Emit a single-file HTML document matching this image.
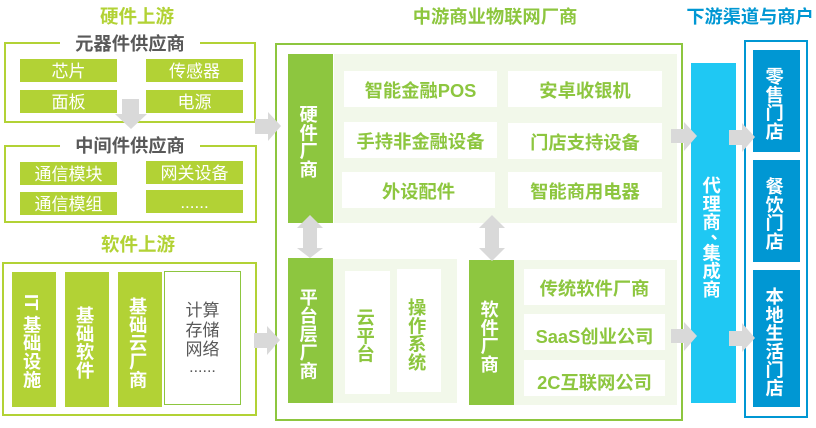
<!DOCTYPE html>
<html lang="zh">
<head>
<meta charset="utf-8">
<style>
html,body{margin:0;padding:0;background:#fff}
#c{position:relative;width:816px;height:428px;overflow:hidden;background:#fff;font-family:"Liberation Sans","Noto Sans CJK SC",sans-serif}
#c div{position:absolute;box-sizing:border-box}
.t{display:flex;align-items:center;justify-content:center;white-space:nowrap;font-size:18.3px;font-weight:700;line-height:1}
.t span{position:relative}
.y{background:#b2d235;color:#fff;font-weight:400;font-size:17px}
.y span{top:1px}
.w{background:#fff;color:#8dc63f}
.v{writing-mode:vertical-rl;color:#fff}
.v span{left:-3px;top:3px}
.g{background:#8dc63f}.l{background:#b2d235}.b{background:#0097d3}
.p{background:#f2f8ea}
svg{position:absolute;left:0;top:0}
</style>
</head>
<body>
<div id="c">
<!-- outer frames -->
<div style="left:4px;top:42px;width:252px;height:81px;border:2px solid #b2d235"></div>
<div style="left:60px;top:36px;width:140px;height:12px;background:#fff"></div>
<div style="left:4px;top:145px;width:253px;height:78px;border:2px solid #b2d235"></div>
<div style="left:60px;top:139px;width:140px;height:12px;background:#fff"></div>
<div style="left:2px;top:262px;width:255px;height:154px;border:2px solid #b2d235"></div>
<div style="left:275px;top:43px;width:408px;height:378px;border:2px solid #8dc63f"></div>
<div style="left:744px;top:40px;width:64px;height:378px;border:2px solid #0097d3"></div>

<!-- titles -->
<div class="t" style="left:87px;top:6px;width:100px;height:22px;color:#b2d235;font-size:18.5px">硬件上游</div>
<div class="t" style="left:60px;top:33px;width:140px;height:22px;color:#595959">元器件供应商</div>
<div class="t" style="left:60px;top:135px;width:140px;height:22px;color:#595959">中间件供应商</div>
<div class="t" style="left:88px;top:234px;width:100px;height:22px;color:#b2d235;font-size:18.5px">软件上游</div>
<div class="t" style="left:395px;top:6px;width:200px;height:22px;color:#8dc63f">中游商业物联网厂商</div>
<div class="t" style="left:680px;top:6px;width:140px;height:22px;color:#0097d3;font-size:18.2px">下游渠道与商户</div>

<!-- hardware upstream -->
<div class="t y" style="left:20px;top:59px;width:97px;height:23px"><span>芯片</span></div>
<div class="t y" style="left:146px;top:59px;width:97px;height:23px"><span>传感器</span></div>
<div class="t y" style="left:20px;top:90px;width:97px;height:23px"><span>面板</span></div>
<div class="t y" style="left:146px;top:90px;width:97px;height:23px"><span>电源</span></div>
<div class="t y" style="left:20px;top:162px;width:97px;height:23px"><span>通信模块</span></div>
<div class="t y" style="left:146px;top:161px;width:97px;height:23px"><span>网关设备</span></div>
<div class="t y" style="left:20px;top:192px;width:97px;height:23px"><span>通信模组</span></div>
<div class="t y" style="left:146px;top:190px;width:97px;height:23px"><span>......</span></div>

<!-- software upstream -->
<div class="t v l" style="left:12px;top:272px;width:44px;height:135px"><span style="top:2px">IT 基础设施</span></div>
<div class="t v l" style="left:65px;top:272px;width:44px;height:135px"><span>基础软件</span></div>
<div class="t v l" style="left:118px;top:272px;width:44px;height:135px"><span>基础云厂商</span></div>
<div style="left:164px;top:271px;width:77px;height:134px;border:1px solid #8dc63f;background:#fff"></div>
<div class="t" style="left:164px;top:300px;width:77px;height:20px;font-weight:400;font-size:17px;color:#595959">计算</div>
<div class="t" style="left:164px;top:320px;width:77px;height:20px;font-weight:400;font-size:17px;color:#595959">存储</div>
<div class="t" style="left:164px;top:339px;width:77px;height:20px;font-weight:400;font-size:17px;color:#595959">网络</div>
<div class="t" style="left:164px;top:358px;width:77px;height:20px;font-weight:400;font-size:16px;color:#595959">......</div>

<!-- midstream panels -->
<div class="p" style="left:334px;top:54px;width:343px;height:169px"></div>
<div class="p" style="left:333px;top:259px;width:124px;height:144px"></div>
<div class="p" style="left:514px;top:260px;width:163px;height:145px"></div>

<div class="t v g" style="left:288px;top:54px;width:45px;height:169px"><span>硬件厂商</span></div>
<div class="t v g" style="left:288px;top:258px;width:45px;height:145px"><span>平台层厂商</span></div>
<div class="t v g" style="left:469px;top:260px;width:45px;height:145px"><span style="top:4px">软件厂商</span></div>

<div class="t w" style="left:344px;top:71px;width:153px;height:36px"><span style="top:2px">智能金融POS</span></div>
<div class="t w" style="left:508px;top:71px;width:154px;height:36px"><span style="top:2px">安卓收银机</span></div>
<div class="t w" style="left:344px;top:122px;width:153px;height:36px"><span style="top:2px">手持非金融设备</span></div>
<div class="t w" style="left:508px;top:123px;width:154px;height:36px"><span style="top:2px">门店支持设备</span></div>
<div class="t w" style="left:342px;top:172px;width:153px;height:36px"><span style="top:2px">外设配件</span></div>
<div class="t w" style="left:508px;top:172px;width:154px;height:36px"><span style="top:2px">智能商用电器</span></div>

<div class="t w" style="left:345px;top:271px;width:45px;height:123px;writing-mode:vertical-rl"><span style="left:-3px;top:3px">云平台</span></div>
<div class="t w" style="left:397px;top:269px;width:44px;height:123px;writing-mode:vertical-rl"><span style="left:-3px;top:4px">操作系统</span></div>

<div class="t w" style="left:524px;top:269px;width:141px;height:36px"><span style="top:2px">传统软件厂商</span></div>
<div class="t w" style="left:524px;top:314px;width:141px;height:36px"><span style="top:5px">SaaS创业公司</span></div>
<div class="t w" style="left:524px;top:360px;width:141px;height:36px"><span style="top:5px">2C互联网公司</span></div>

<!-- downstream -->
<div class="t v" style="left:691px;top:63px;width:45px;height:340px;background:#1fc8f3"><span style="top:4px">代理商<span style="letter-spacing:-6px">、</span>集成商</span></div>
<div class="t v b" style="left:753px;top:50px;width:47px;height:102px"><span>零售门店</span></div>
<div class="t v b" style="left:753px;top:160px;width:47px;height:102px"><span>餐饮门店</span></div>
<div class="t v b" style="left:753px;top:270px;width:47px;height:137px"><span>本地生活门店</span></div>

<!-- arrows -->
<svg width="816" height="428" viewBox="0 0 816 428" fill="#d9d9d9">
<polygon points="122,99 139,99 139,114 147,114 131,129 115,114 122,114"/>
<polygon points="255,119 268,119 268,112 281,126 268,141 268,134 255,134"/>
<polygon points="254,333 267,333 267,326 280,340 267,355 267,348 254,348"/>
<polygon points="671,129 684,129 684,122 697,136 684,151 684,143 671,143"/>
<polygon points="671,329 684,329 684,322 697,336 684,351 684,343 671,343"/>
<polygon points="729,130 742,130 742,123 755,137 742,152 742,145 729,145"/>
<polygon points="729,331 742,331 742,323 755,338 742,352 742,346 729,346"/>
<polygon points="310,215 323,228 317,228 317,248 323,248 310,258 297,248 303,248 303,228 297,228"/>
<polygon points="492,215 505,228 499,228 499,248 505,248 492,261 479,248 485,248 485,228 479,228"/>
</svg>
</div>
</body>
</html>
